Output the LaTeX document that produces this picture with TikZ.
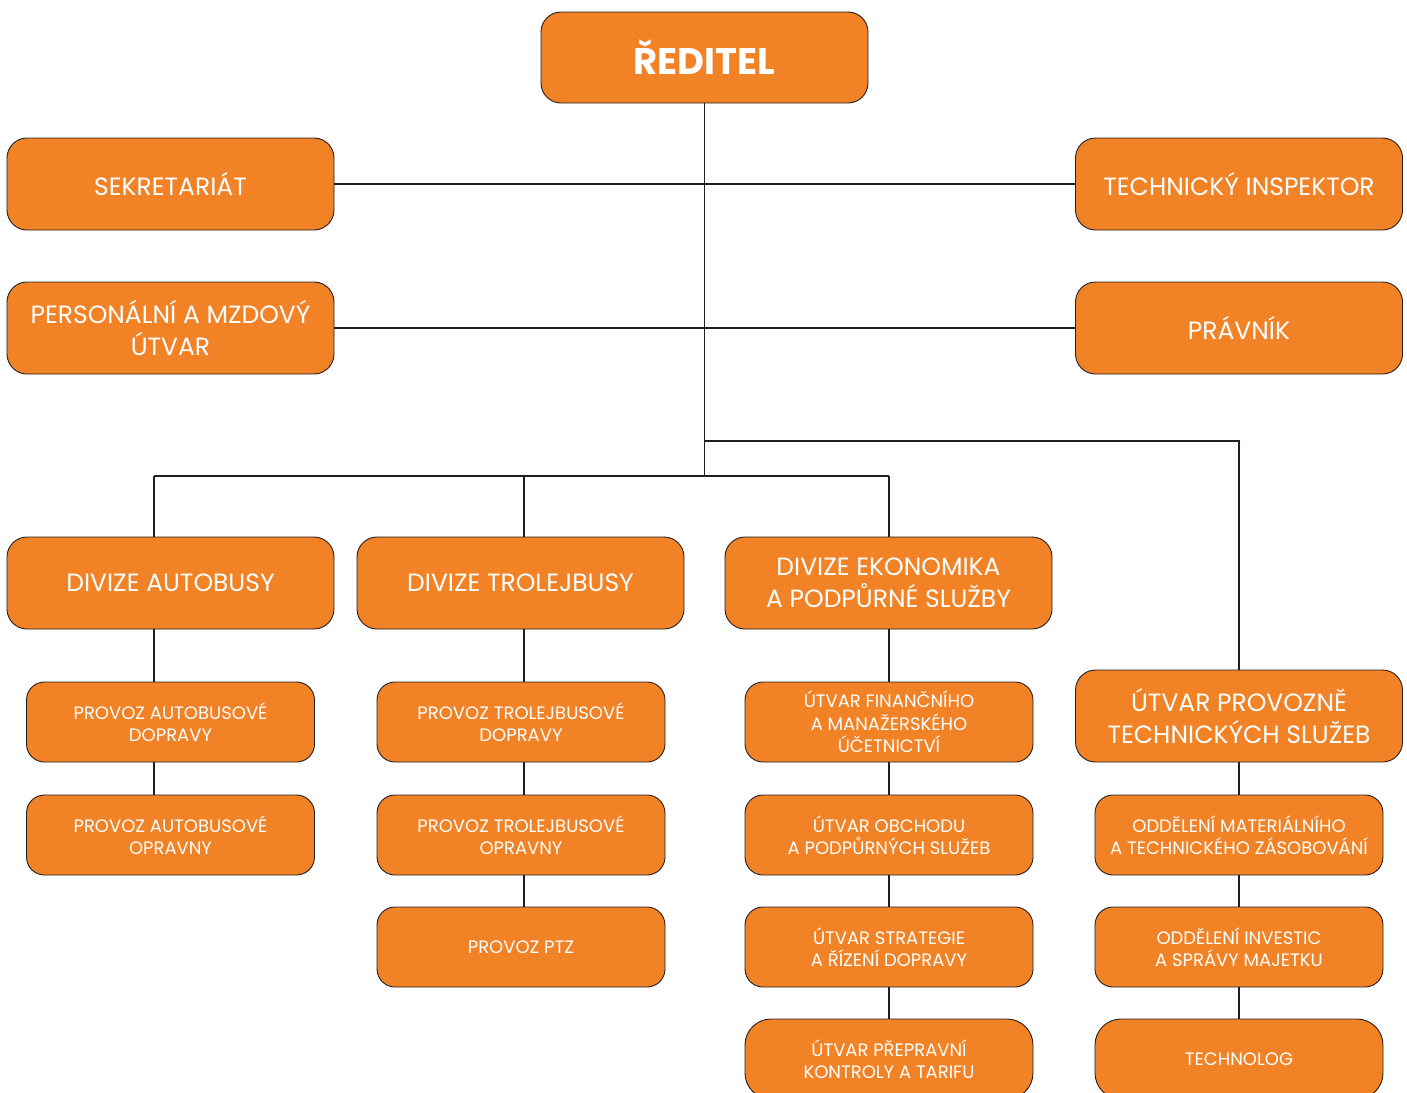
\documentclass[tikz,border=0pt]{standalone}
\usepackage{fontspec}
\setmainfont{Poppins}
\definecolor{orgc}{RGB}{242,130,38}
\definecolor{linec}{RGB}{35,31,32}
\begin{document}
\begin{tikzpicture}[x=1pt,y=-1pt,
  box/.style={draw=linec, line width=0.9pt, fill=orgc, rounded corners=20pt,
    minimum width=327pt, minimum height=92pt, align=center, text=white,
    inner sep=0pt, font=\fontsize{25}{31.5}\selectfont},
  sbox/.style={box, minimum width=288pt, minimum height=80pt,
    rounded corners=18pt, font=\fontsize{18}{22.5}\selectfont},
  lbox/.style={sbox, rounded corners=26pt},
  link/.style={draw=linec, line width=1.9pt}]
\useasboundingbox (0,0) rectangle (1407,1092);
\clip (0,0) rectangle (1407,1092);
% top
\node[box, minimum height=91pt, font=\fontsize{37}{40}\selectfont\bfseries] (dir) at (704.5,57.5) {ŘEDITEL};
\node[box] (sek) at (170.5,184) {SEKRETARIÁT};
\node[box] (tin) at (1239,184) {TECHNICKÝ INSPEKTOR};
\node[box] (per) at (170.5,328) {PERSONÁLNÍ A MZDOVÝ\\ÚTVAR};
\node[box] (pra) at (1239,328) {PRÁVNÍK};
% divisions
\node[box] (dva) at (170.5,583) {DIVIZE AUTOBUSY};
\node[box] (dvt) at (520.5,583) {DIVIZE TROLEJBUSY};
\node[box] (dve) at (888.5,583) {DIVIZE EKONOMIKA\\A PODPŮRNÉ SLUŽBY};
\node[box] (uts) at (1239,716) {ÚTVAR PROVOZNĚ\\TECHNICKÝCH SLUŽEB};
% column A
\node[sbox] (a1) at (170.5,722) {PROVOZ AUTOBUSOVÉ\\DOPRAVY};
\node[sbox] (a2) at (170.5,835) {PROVOZ AUTOBUSOVÉ\\OPRAVNY};
% column B
\node[sbox] (b1) at (521,722) {PROVOZ TROLEJBUSOVÉ\\DOPRAVY};
\node[sbox] (b2) at (521,835) {PROVOZ TROLEJBUSOVÉ\\OPRAVNY};
\node[sbox] (b3) at (521,947) {PROVOZ PTZ};
% column C
\node[sbox] (c1) at (889,722) {ÚTVAR FINANČNÍHO\\A MANAŽERSKÉHO\\ÚČETNICTVÍ};
\node[sbox] (c2) at (889,835) {ÚTVAR OBCHODU\\A PODPŮRNÝCH SLUŽEB};
\node[sbox] (c3) at (889,947) {ÚTVAR STRATEGIE\\A ŘÍZENÍ DOPRAVY};
\node[lbox] (c4) at (889,1059) {ÚTVAR PŘEPRAVNÍ\\KONTROLY A TARIFU};
% column D
\node[sbox] (d1) at (1239,835) {ODDĚLENÍ MATERIÁLNÍHO\\A TECHNICKÉHO ZÁSOBOVÁNÍ};
\node[sbox] (d2) at (1239,947) {ODDĚLENÍ INVESTIC\\A SPRÁVY MAJETKU};
\node[lbox] (d3) at (1239,1059) {TECHNOLOG};
% junctions
\coordinate (jm) at (704.5,476);
\coordinate (jr) at (704.5,441);
\coordinate (xa) at (154,476);
\coordinate (xb) at (524,476);
\coordinate (xc) at (889,476);
% connectors
\draw[link] (dir.south) -- (jm);
\draw[link] (sek.east) -- (tin.west);
\draw[link] (per.east) -- (pra.west);
\draw[link] (jr) -| (uts.north);
\draw[link] (xa) -- (xc);
\draw[link] (xa) -- (dva.north -| xa);
\draw[link] (xb) -- (dvt.north -| xb);
\draw[link] (xc) -- (dve.north -| xc);
\draw[link] (dva.south -| xa) -- (a1.north -| xa);
\draw[link] (a1.south -| xa) -- (a2.north -| xa);
\draw[link] (dvt.south -| xb) -- (b1.north -| xb);
\draw[link] (b1.south -| xb) -- (b2.north -| xb);
\draw[link] (b2.south -| xb) -- (b3.north -| xb);
\draw[link] (dve.south -| xc) -- (c1.north -| xc);
\draw[link] (c1.south -| xc) -- (c2.north -| xc);
\draw[link] (c2.south -| xc) -- (c3.north -| xc);
\draw[link] (c3.south -| xc) -- (c4.north -| xc);
\draw[link] (uts.south) -- (d1.north);
\draw[link] (d1.south) -- (d2.north);
\draw[link] (d2.south) -- (d3.north);
\end{tikzpicture}
\end{document}
